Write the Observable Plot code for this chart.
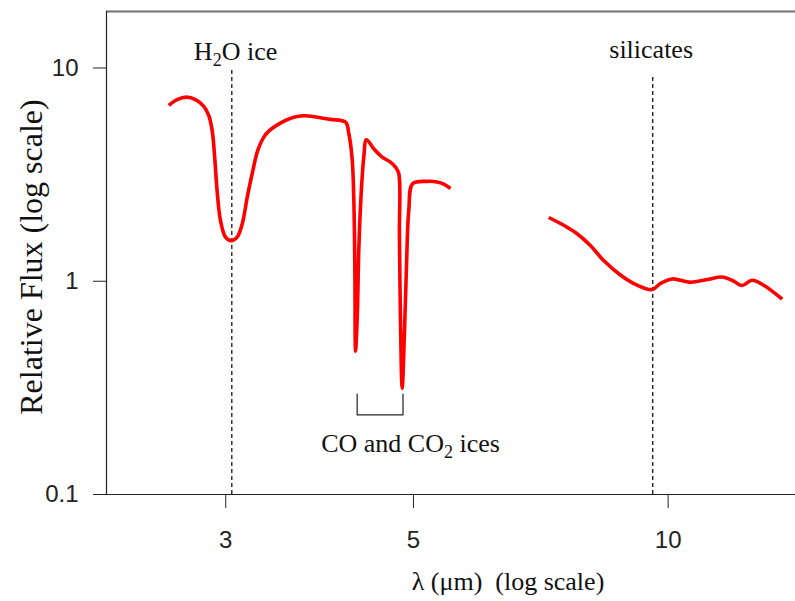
<!DOCTYPE html>
<html><head><meta charset="utf-8">
<script src="https://cdn.jsdelivr.net/npm/d3@7"></script>
<script src="https://cdn.jsdelivr.net/npm/@observablehq/plot@0.6"></script>
<style>
html,body{margin:0;padding:0;background:#fff;}
svg text{white-space:pre;}
</style></head><body><div id="chart"></div>
<script>
// Spectrum segment 1 (ice features): wavelength (μm) and relative flux
const wl1 = [2.569, 2.628, 2.696, 2.763, 2.826, 2.864, 2.891, 2.909, 2.930, 2.957, 2.998, 3.045, 3.095, 3.138, 3.181, 3.224, 3.273, 3.327, 3.373, 3.498, 3.610, 3.710, 3.848, 3.990, 4.156, 4.194, 4.233, 4.251, 4.263, 4.271, 4.291, 4.309, 4.337, 4.368, 4.400, 4.488, 4.592, 4.697, 4.761, 4.804, 4.813, 4.826, 4.849, 4.879, 4.906, 4.937, 4.991, 5.190, 5.333, 5.430, 5.530];
const flux1 = [6.67, 7.10, 7.30, 7.10, 6.60, 5.99, 5.10, 3.97, 2.67, 1.93, 1.61, 1.55, 1.61, 1.86, 2.48, 3.20, 4.11, 4.74, 5.06, 5.57, 5.88, 5.97, 5.88, 5.74, 5.57, 4.92, 3.69, 2.40, 1.17, 0.47, 0.68, 1.40, 2.58, 3.82, 4.61, 4.18, 3.82, 3.62, 3.43, 3.20, 1.67, 0.68, 0.315, 0.57, 1.17, 2.15, 2.87, 2.94, 2.92, 2.85, 2.72];
// Spectrum segment 2 (silicate region)
const wl2 = [7.225, 7.526, 7.805, 8.093, 8.391, 8.781, 9.192, 9.574, 9.793, 10.11, 10.63, 11.12, 11.58, 11.90, 12.23, 12.57, 12.97, 13.64];
const flux2 = [1.99, 1.83, 1.67, 1.47, 1.25, 1.07, 0.958, 0.914, 0.976, 1.025, 0.989, 1.019, 1.047, 1.011, 0.955, 1.011, 0.958, 0.824];

// Axis ticks
const xTicks = [3, 5, 10];
const yTicks = [0.1, 1, 10];
const xDomain = [2.1686, 14.143];
const yDomain = [0.1, 18.4];

// Feature markers (dashed lines): wavelength and top of the line (flux units)
const featureWl = [3.05, 9.59];
const featureTop = [9.84, 9.13];

// Annotation labels and their anchors (data units)
const annotLabels = ["H2O ice", "silicates", "CO and CO2 ices"];
const annotX = [3.081, 9.548, 4.960];
const annotY = [10.93, 11.17, 0.158];

// Bracket under the CO2 / CO features
const bracketWl = [4.29, 4.86];
const bracketTop = 0.296;
const bracketBottom = 0.236;

const xLabel = "λ (μm)  (log scale)";
const yLabel = "Relative Flux (log scale)";

const spectrum = [
  ...wl1.map((w, i) => ({wl: w, flux: flux1[i], seg: 1})),
  ...wl2.map((w, i) => ({wl: w, flux: flux2[i], seg: 2}))
];
const features = featureWl.map((w, i) => ({wl: w, top: featureTop[i]}));
const annots = annotLabels.map((t, i) => ({text: t, x: annotX[i], y: annotY[i]}));
const bracket = [
  {x: bracketWl[0], y: bracketTop},
  {x: bracketWl[0], y: bracketBottom},
  {x: bracketWl[1], y: bracketBottom},
  {x: bracketWl[1], y: bracketTop}
];

const serif = "'Liberation Serif', 'Times New Roman', Times, serif";

const chart = Plot.plot({
  width: 795,
  height: 601,
  marginLeft: 106,
  marginRight: 0,
  marginTop: 11,
  marginBottom: 107,
  style: {fontFamily: "'Liberation Sans', Arial, sans-serif", fontSize: "24px", background: "#fff", color: "#222", overflow: "visible"},
  x: {type: "log", domain: xDomain, ticks: xTicks, tickFormat: d => String(d), tickSize: 14, tickPadding: 22, label: null},
  y: {type: "log", domain: yDomain, ticks: yTicks, tickFormat: d3.format("~g"), tickSize: 13, tickPadding: 15, label: null},
  marks: [
    Plot.ruleY([yDomain[1]], {stroke: "#707070", strokeWidth: 2}),
    Plot.ruleX([xDomain[0]], {stroke: "#222", strokeWidth: 1.2}),
    Plot.ruleY([yDomain[0]], {stroke: "#222", strokeWidth: 1.2, insetLeft: -13}),
    Plot.ruleX(features, {x: "wl", y1: () => yDomain[0], y2: "top", stroke: "#000", strokeWidth: 1.2, strokeDasharray: "4,3"}),
    Plot.line(bracket, {x: "x", y: "y", stroke: "#222", strokeWidth: 1.2}),
    Plot.line(spectrum, {x: "wl", y: "flux", z: "seg", stroke: "#ff0000", strokeWidth: 3.6, curve: "catmull-rom", strokeLinejoin: "round", strokeLinecap: "butt"}),
    Plot.text(annots, {x: "x", y: "y", text: "text", lineAnchor: "bottom", textAnchor: "middle", fontFamily: serif, fontSize: 26, fill: "#111"}),
    Plot.text([xLabel], {text: d => d, frameAnchor: "bottom", dx: 57, dy: 95, lineAnchor: "bottom", textAnchor: "middle", fontFamily: serif, fontSize: 26, fill: "#111"}),
    Plot.text([yLabel], {text: d => d, frameAnchor: "left", rotate: -90, dx: -65, dy: 4, lineAnchor: "bottom", textAnchor: "middle", fontFamily: serif, fontSize: 32, fill: "#111"})
  ]
});

// Subscripts for chemical formulas
d3.select(chart).selectAll("text").each(function() {
  const t = this.textContent;
  const parts = t === "H2O ice" ? ["H", "2", "O ice"] : t === "CO and CO2 ices" ? ["CO and CO", "2", " ices"] : null;
  if (!parts) return;
  this.textContent = "";
  const sel = d3.select(this);
  sel.append("tspan").text(parts[0]);
  sel.append("tspan").attr("dy", 6).attr("font-size", 18).text(parts[1]);
  sel.append("tspan").attr("dy", -6).text(parts[2]);
});

document.getElementById("chart").appendChild(chart);
</script></body></html>
